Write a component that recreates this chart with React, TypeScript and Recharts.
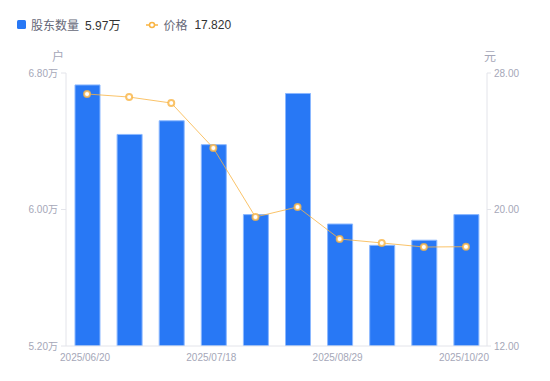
import React from 'react'
import { ComposedChart, Bar, Line, XAxis, YAxis } from 'recharts'

// ─── Data ────────────────────────────────────────────────────────────────
const dates = ['2025/06/20', '', '', '2025/07/18', '', '', '2025/08/29', '', '', '2025/10/20']
const holders = [6.73, 6.44, 6.52, 6.38, 5.97, 6.68, 5.915, 5.79, 5.82, 5.97] // 万户
const prices = [26.77, 26.59, 26.24, 23.6, 19.56, 20.15, 18.27, 18.04, 17.8, 17.82] // 元
const holderTicks = [5.2, 6.0, 6.8]
const priceTicks = [12, 20, 28]

const data = holders.map((h, i) => ({ date: dates[i] || `p${i}`, holders: h, price: prices[i] }))

const FONT = '"Liberation Sans", Arial, "Noto Sans CJK SC", sans-serif'
const BLUE = '#2878f5'
const ORANGE = '#f9b443'
const TICK = { fill: '#a5a7b8', fontSize: 10, fontFamily: FONT }
const AXIS = { stroke: '#e3e4ea' }

const UnitLabel = ({ viewBox, value, dx }: any) => (
  <text
    x={viewBox.x + dx}
    y={viewBox.y - 12}
    textAnchor="middle"
    fill="#a5a7b8"
    fontSize={12}
    fontFamily={FONT}
  >
    {value}
  </text>
)

const DateTick = ({ x, y, index }: any) => {
  const label = dates[index]
  if (!label) return null
  return (
    <text x={x - 2} y={y} dy="0.71em" textAnchor="middle" {...TICK}>
      {label}
    </text>
  )
}

function ChartLegend() {
  const last = data.length - 1
  return (
    <div
      style={{
        position: 'absolute',
        left: 17,
        top: 16,
        display: 'flex',
        alignItems: 'center',
        fontFamily: FONT,
        fontSize: 12,
        color: '#666878',
        whiteSpace: 'nowrap',
      }}
    >
      <span style={{ width: 9, height: 9, background: BLUE, borderRadius: 1.5, display: 'inline-block' }} />
      <span style={{ marginLeft: 5 }}>股东数量</span>
      <span style={{ marginLeft: 6, color: '#333' }}>{holders[last].toFixed(2)}万</span>
      <svg width={12} height={10} style={{ marginLeft: 26 }}>
        <line x1={0} y1={5} x2={12} y2={5} stroke={ORANGE} strokeWidth={1.5} />
        <circle cx={6} cy={5} r={2.5} fill="#fff" stroke={ORANGE} strokeWidth={1.5} />
      </svg>
      <span style={{ marginLeft: 5 }}>价格</span>
      <span style={{ marginLeft: 7, color: '#333' }}>{prices[last].toFixed(3)}</span>
    </div>
  )
}

export default function App() {
  return (
    <div style={{ position: 'absolute', left: 0, top: 0, width: 550, height: 381, background: '#fff' }}>
      <ChartLegend />
      <ComposedChart width={550} height={381} data={data} margin={{ top: 73, right: 0, left: 0, bottom: 5 }}>
        <XAxis
          dataKey="date"
          type="category"
          tick={<DateTick />}
          tickLine={false}
          tickSize={0}
          tickMargin={8}
          axisLine={AXIS}
          height={30}
          interval={0}
        />
        <YAxis
          yAxisId="left"
          width={66}
          domain={[5.2, 6.8]}
          ticks={holderTicks}
          allowDataOverflow
          tickFormatter={(v) => `${v.toFixed(2)}万`}
          tick={TICK}
          tickLine={AXIS}
          tickSize={5}
          tickMargin={3}
          axisLine={AXIS}
          label={<UnitLabel value="户" dx={58} />}
        />
        <YAxis
          yAxisId="right"
          orientation="right"
          width={63}
          domain={[12, 28]}
          ticks={priceTicks}
          allowDataOverflow
          tickFormatter={(v) => v.toFixed(2)}
          tick={TICK}
          tickLine={AXIS}
          tickSize={4}
          tickMargin={3}
          axisLine={AXIS}
          label={<UnitLabel value="元" dx={3} />}
        />
        <Bar
          yAxisId="left"
          dataKey="holders"
          fill={BLUE}
          stroke="#8bb8ff"
          strokeWidth={1}
          barSize={25}
          isAnimationActive={false}
        />
        <Line
          yAxisId="right"
          dataKey="price"
          type="linear"
          stroke={ORANGE}
          strokeOpacity={0.8}
          strokeWidth={1}
          dot={{ r: 3, fill: '#fff', stroke: ORANGE, strokeWidth: 2 }}
          isAnimationActive={false}
        />
      </ComposedChart>
    </div>
  )
}
